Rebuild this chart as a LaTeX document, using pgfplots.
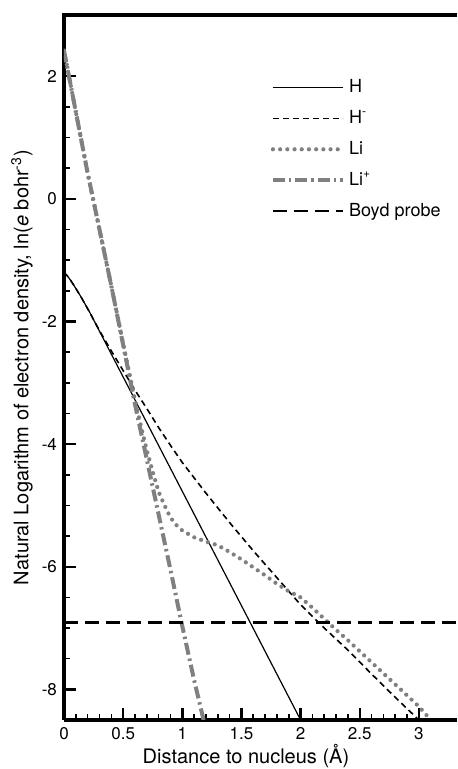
\documentclass[border=0pt]{standalone}
\usepackage{fontspec}
\setmainfont{TeX Gyre Heros}
\usepackage{pgfplots}
\pgfplotsset{compat=1.18}
\usetikzlibrary{calc}
\definecolor{ligray}{RGB}{128,128,128}

\begin{document}
\begin{tikzpicture}
\begin{axis}[
  name=ax,
  scale only axis, width=196.5pt, height=352.5pt,
  xmin=0, xmax=3.322, ymin=-8.5, ymax=3,
  axis x line*=bottom, axis y line*=left,
  axis line style={line width=1.6pt, -},
  every outer x axis line/.append style={-},
  every outer y axis line/.append style={-},
  xtick={0,0.5,1,1.5,2,2.5,3}, ytick={-8,-6,-4,-2,0,2},
  minor x tick num=4, minor y tick num=3,
  tick align=inside,
  major tick length=6pt, minor tick length=3pt,
  every major tick/.append style={line width=1.2pt, black},
  every minor tick/.append style={line width=0.8pt, black},
  /pgf/number format/assume math mode=true,
  ticklabel style={font=\fontsize{8.5}{10}\selectfont},
  label style={font=\fontsize{10}{12}\selectfont},
  xlabel={Distance to nucleus (Å)},
  xlabel style={at={(axis description cs:0.463,-0.051)}, anchor=center},
  ylabel={Natural Logarithm of electron density, ln(\textit{e} bohr\textsuperscript{-3})},
  ylabel style={at={(axis description cs:-0.107,0.5)}, anchor=center},
  legend cell align=left,
  legend image code/.code={\draw[#1] (0pt,0pt) -- (35pt,0pt);},
  legend style={at={(axis description cs:0.51,0.92)}, anchor=north west,
    draw=none, fill=none, font=\fontsize{9}{11}\selectfont, row sep=3.3pt},
]
% H
\addplot[black, line width=0.6pt] coordinates {
  (0,-1.2) (0.03,-1.26) (0.06,-1.34) (0.1,-1.46) (0.15,-1.62) (0.22,-1.86) (2.0,-8.5)};
\addlegendentry{H}
% H-
\addplot[black, line width=0.8pt, dash pattern=on 3pt off 2pt] coordinates {
  (0,-1.2) (0.03,-1.26) (0.06,-1.34) (0.1,-1.46) (0.15,-1.62) (0.22,-1.86) (0.3,-2.15)
  (0.4,-2.48) (0.5,-2.8) (0.6,-3.12) (0.7,-3.42) (0.8,-3.73) (0.9,-4.02)
  (1.0,-4.3) (1.2,-4.8) (1.4,-5.28) (1.6,-5.74) (1.8,-6.18) (2.0,-6.62)
  (2.2,-7.0) (2.4,-7.36) (2.6,-7.75) (2.8,-8.13) (3.0,-8.5)};
\addlegendentry{H\textsuperscript{-}}
% Li
\addplot[ligray, line width=2.1pt, line cap=round, dash pattern=on 0pt off 3.6pt] coordinates {
  (0,2.42) (0.1,1.42) (0.2,0.42) (0.3,-0.5) (0.4,-1.42) (0.5,-2.36)
  (0.6,-3.28) (0.65,-3.7) (0.7,-4.1) (0.75,-4.45) (0.8,-4.78) (0.85,-5.0)
  (0.9,-5.2) (0.95,-5.32) (1.0,-5.41) (1.1,-5.52) (1.2,-5.59) (1.3,-5.65)
  (1.4,-5.76) (1.5,-5.88) (1.6,-6.01) (1.7,-6.14) (1.8,-6.28) (1.9,-6.4)
  (2.0,-6.5) (2.1,-6.67) (2.2,-6.85) (2.3,-7.03) (2.4,-7.2) (2.5,-7.38)
  (2.6,-7.56) (2.7,-7.74) (2.8,-7.92) (2.9,-8.1) (3.0,-8.28) (3.1,-8.5)};
\addlegendentry{Li}
% Li+
\addplot[ligray, line width=2pt, dash pattern=on 6pt off 2pt on 1.2pt off 2pt] coordinates {
  (0,2.42) (0.1,1.42) (0.2,0.42) (0.3,-0.5) (0.4,-1.42) (0.5,-2.38)
  (0.6,-3.35) (0.7,-4.25) (0.8,-5.15) (0.9,-6.05) (1.0,-6.97) (1.1,-7.85)
  (1.18,-8.5)};
\addlegendentry{Li\textsuperscript{+}}
% Boyd probe
\addplot[black, line width=1.4pt, dash pattern=on 7pt off 3.5pt] coordinates {
  (0,-6.908) (3.322,-6.908)};
\addlegendentry{Boyd probe}
\end{axis}
\draw[line width=1.6pt] ($(ax.north west)+(-0.8pt,0)$) -- (ax.north east);
\pgfresetboundingbox
\path[use as bounding box] ($(ax.south west)+(-32pt,-24.5pt)$) rectangle ($(ax.north east)+(0pt,7.5pt)$);
\end{tikzpicture}
\end{document}
